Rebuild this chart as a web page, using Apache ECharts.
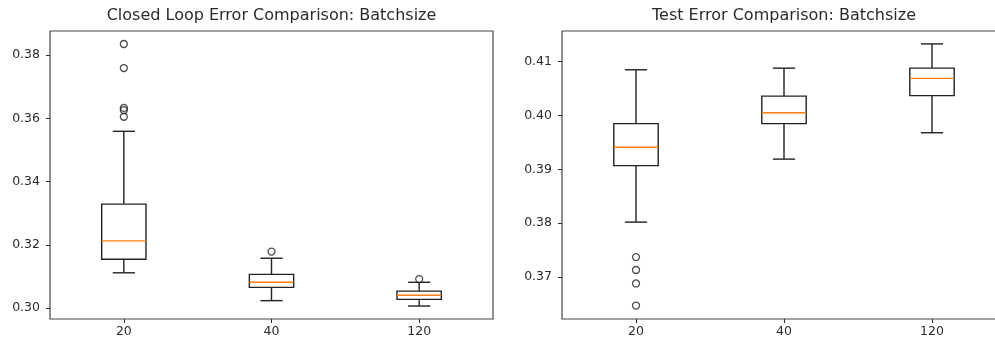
<!DOCTYPE html>
<html>
<head>
<meta charset="utf-8">
<script src="https://cdn.jsdelivr.net/npm/echarts@6/dist/echarts.min.js"></script>
<style>html,body{margin:0;padding:0;background:#fff}#c{width:995px;height:346px}</style>
</head>
<body>
<div id="c"></div>
<script>
// Categories (batch sizes)
const categories = ['20', '40', '120'];

// Closed loop error: [categoryIndex, lowerWhisker, Q1, median, Q3, upperWhisker]
const closedLoopBoxes = [
  [0, 0.3112, 0.3155, 0.3213, 0.3329, 0.3559],
  [1, 0.3024, 0.3066, 0.3082, 0.3107, 0.3158],
  [2, 0.3007, 0.3028, 0.3041, 0.3054, 0.3082]
];
const closedLoopOutliers = [
  [0, 0.3835], [0, 0.3759], [0, 0.3633], [0, 0.3626], [0, 0.3605],
  [1, 0.3179],
  [2, 0.3092]
];

// Test error
const testBoxes = [
  [0, 0.3802, 0.3907, 0.3941, 0.3985, 0.4085],
  [1, 0.3919, 0.3985, 0.4005, 0.4036, 0.4088],
  [2, 0.3968, 0.4037, 0.4069, 0.4088, 0.4133]
];
const testOutliers = [
  [0, 0.3737], [0, 0.3713], [0, 0.3688], [0, 0.3647]
];

// Tick labels
const closedLoopTicks = [0.30, 0.32, 0.34, 0.36, 0.38];
const testTicks = [0.37, 0.38, 0.39, 0.40, 0.41];

const titles = ['Closed Loop Error Comparison: Batchsize', 'Test Error Comparison: Batchsize'];

const FONT = 'DejaVu Sans';
const INK = '#2b2b2b';

function renderBox(params, api) {
  const x = api.value(0);
  const lo = api.coord([x, api.value(1)]);
  const q1 = api.coord([x, api.value(2)]);
  const med = api.coord([x, api.value(3)]);
  const q3 = api.coord([x, api.value(4)]);
  const hi = api.coord([x, api.value(5)]);
  const band = api.size([1, 0])[0];
  const bw = band * 0.3, cw = bw / 2;
  const cx = lo[0];
  const s = { stroke: '#222', lineWidth: 1.4, fill: null };
  return {
    type: 'group',
    children: [
      { type: 'line', shape: { x1: cx, y1: q1[1], x2: cx, y2: lo[1] }, style: s },
      { type: 'line', shape: { x1: cx, y1: q3[1], x2: cx, y2: hi[1] }, style: s },
      { type: 'line', shape: { x1: cx - cw / 2, y1: lo[1], x2: cx + cw / 2, y2: lo[1] }, style: s },
      { type: 'line', shape: { x1: cx - cw / 2, y1: hi[1], x2: cx + cw / 2, y2: hi[1] }, style: s },
      { type: 'rect', shape: { x: cx - bw / 2, y: q3[1], width: bw, height: q1[1] - q3[1] }, style: { stroke: '#222', lineWidth: 1.4, fill: 'transparent' } },
      { type: 'line', shape: { x1: cx - bw / 2, y1: med[1], x2: cx + bw / 2, y2: med[1] }, style: { stroke: '#ff7f0e', lineWidth: 1.4 } }
    ]
  };
}

function xAxis(gi) {
  return {
    type: 'category', gridIndex: gi, data: categories, boundaryGap: true,
    axisLine: { show: false },
    axisTick: { show: true, alignWithLabel: true, length: 4, lineStyle: { color: INK, width: 1 } },
    axisLabel: { fontFamily: FONT, fontSize: 12.5, color: INK, margin: 6 },
    splitLine: { show: false }
  };
}
function yAxis(gi, min, max, ticks) {
  return {
    type: 'value', gridIndex: gi, min: min, max: max, scale: true,
    axisLine: { show: false },
    axisTick: { show: true, length: 4, customValues: ticks, lineStyle: { color: INK, width: 1 } },
    axisLabel: { fontFamily: FONT, fontSize: 12.5, color: INK, margin: 10, customValues: ticks, formatter: v => v.toFixed(2) },
    splitLine: { show: false }
  };
}

const option = {
  animation: false,
  backgroundColor: '#fff',
  title: [
    { text: titles[0], left: 271.5, top: 8, padding: 0, textAlign: 'center', textStyle: { fontFamily: FONT, fontSize: 16, fontWeight: 'normal', color: INK } },
    { text: titles[1], left: 784, top: 8, padding: 0, textAlign: 'center', textStyle: { fontFamily: FONT, fontSize: 16, fontWeight: 'normal', color: INK } }
  ],
  grid: [
    { left: 50, top: 31, width: 443, height: 288, outerBoundsMode: 'none', show: true, borderColor: '#444', borderWidth: 1.2, backgroundColor: 'transparent', containLabel: false },
    { left: 562, top: 31, width: 444, height: 288, outerBoundsMode: 'none', show: true, borderColor: '#444', borderWidth: 1.2, backgroundColor: 'transparent', containLabel: false }
  ],
  xAxis: [xAxis(0), xAxis(1)],
  yAxis: [yAxis(0, 0.2966, 0.3876, closedLoopTicks), yAxis(1, 0.3622, 0.4157, testTicks)],
  series: [
    { type: 'custom', xAxisIndex: 0, yAxisIndex: 0, renderItem: renderBox, data: closedLoopBoxes, clip: false, encode: { x: 0, y: [1, 2, 3, 4, 5] } },
    { type: 'scatter', xAxisIndex: 0, yAxisIndex: 0, data: closedLoopOutliers, symbol: 'circle', symbolSize: 7, itemStyle: { color: 'transparent', borderColor: '#222', borderWidth: 1.3 } },
    { type: 'custom', xAxisIndex: 1, yAxisIndex: 1, renderItem: renderBox, data: testBoxes, clip: false, encode: { x: 0, y: [1, 2, 3, 4, 5] } },
    { type: 'scatter', xAxisIndex: 1, yAxisIndex: 1, data: testOutliers, symbol: 'circle', symbolSize: 7, itemStyle: { color: 'transparent', borderColor: '#222', borderWidth: 1.3 } }
  ]
};

echarts.init(document.getElementById('c'), null, { renderer: 'canvas' }).setOption(option);
</script>
</body>
</html>
